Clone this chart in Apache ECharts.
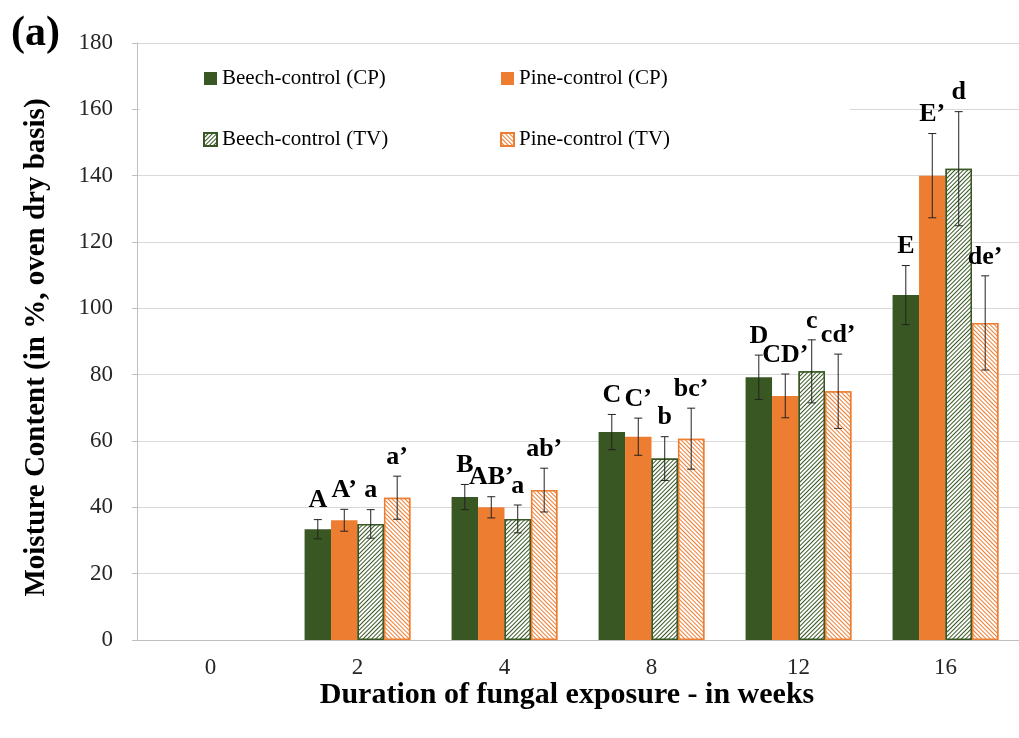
<!DOCTYPE html>
<html>
<head>
<meta charset="utf-8">
<script src="https://cdn.jsdelivr.net/npm/echarts@6/dist/echarts.min.js"></script>
<style>html,body{margin:0;padding:0;background:#fff}#c{width:1019px;height:738px}</style>
</head>
<body>
<div id="c"></div>
<script>
var categories = ['0', '2', '4', '8', '12', '16'];
var seriesNames = ['Beech-control (CP)', 'Pine-control (CP)', 'Beech-control (TV)', 'Pine-control (TV)'];
var beechCP = [null, 33.4, 43.1, 62.7, 79.2, 104.0];
var pineCP  = [null, 36.1, 40.0, 61.3, 73.6, 140.0];
var beechTV = [null, 35.0, 36.5, 54.7, 81.0, 142.1];
var pineTV  = [null, 42.9, 45.2, 60.7, 75.0, 95.6];
var beechCPErr = [null, 2.9, 3.8, 5.3, 6.7, 8.9];
var pineCPErr  = [null, 3.3, 3.2, 5.6, 6.6, 12.7];
var beechTVErr = [null, 4.3, 4.2, 6.6, 9.5, 17.2];
var pineTVErr  = [null, 6.5, 6.6, 9.2, 11.2, 14.2];
var beechCPLbl = ['', 'A', 'B', 'C', 'D', 'E'];
var pineCPLbl  = ['', 'A\u2019', 'AB\u2019', 'C\u2019', 'CD\u2019', 'E\u2019'];
var beechTVLbl = ['', 'a', 'a', 'b', 'c', 'd'];
var pineTVLbl  = ['', 'a\u2019', 'ab\u2019', 'bc\u2019', 'cd\u2019', 'de\u2019'];
var yTicks = {min: 0, max: 180, interval: 20};

var GREEN = '#385723', ORANGE = '#ed7d31';
var SERIF = '"Liberation Serif","Times New Roman",serif';
var values = [beechCP, pineCP, beechTV, pineTV];
var errs = [beechCPErr, pineCPErr, beechTVErr, pineTVErr];
var lbls = [beechCPLbl, pineCPLbl, beechTVLbl, pineTVLbl];
var BW = 0.18;

var errData = [];
for (var s = 0; s < 4; s++) {
  for (var i = 0; i < categories.length; i++) {
    if (values[s][i] != null) errData.push([i, s, values[s][i], errs[s][i], lbls[s][i]]);
  }
}

var itemStyles = [
  {color: GREEN},
  {color: ORANGE},
  {color: '#ffffff', borderColor: GREEN, borderWidth: 1.5,
   decal: {symbol: 'rect', symbolSize: 1, dashArrayX: [1, 0], dashArrayY: [1, 1.7], rotation: -Math.PI / 4, color: GREEN, backgroundColor: '#ffffff'}},
  {color: '#ffffff', borderColor: ORANGE, borderWidth: 1.5,
   decal: {symbol: 'rect', symbolSize: 1, dashArrayX: [1, 0], dashArrayY: [1, 1.7], rotation: Math.PI / 4, color: ORANGE, backgroundColor: '#ffffff'}}
];

var barSeries = values.map(function (v, s) {
  return {type: 'bar', name: seriesNames[s], data: v, barWidth: (BW * 100) + '%', barGap: '0%', itemStyle: itemStyles[s], z: 2};
});

var legendText = {fontFamily: SERIF, fontSize: 21, color: '#000'};
var chart = echarts.init(document.getElementById('c'));
chart.setOption({
  backgroundColor: '#ffffff',
  animation: false,
  title: {text: '(a)', left: 6, top: 8, textStyle: {fontFamily: SERIF, fontSize: 42, fontWeight: 'bold', color: '#000'}},
  grid: {left: 137, top: 43, width: 885, bottom: 98},
  legend: [
    {data: [seriesNames[0], seriesNames[2]], orient: 'vertical', left: 140, top: 56, icon: 'rect',
     padding: [12, 120, 10, 63], itemGap: 40, itemWidth: 13, itemHeight: 13,
     backgroundColor: '#ffffff', z: 5, textStyle: legendText},
    {data: [seriesNames[1], seriesNames[3]], orient: 'vertical', left: 498, top: 56, icon: 'rect',
     padding: [12, 180, 10, 2], itemGap: 40, itemWidth: 13, itemHeight: 13,
     backgroundColor: '#ffffff', z: 5, textStyle: legendText}
  ],
  xAxis: {
    type: 'category', data: categories,
    axisLine: {lineStyle: {color: '#bfbfbf', width: 1}},
    axisTick: {show: false},
    axisLabel: {fontFamily: SERIF, fontSize: 23, color: '#262626', margin: 16},
    name: 'Duration of fungal exposure - in weeks', nameLocation: 'middle', nameGap: 40,
    nameMoveOverlap: false,
    nameTextStyle: {fontFamily: SERIF, fontSize: 30, fontWeight: 'bold', color: '#000', padding: [0, 22, 0, 0]}
  },
  yAxis: {
    type: 'value', min: yTicks.min, max: yTicks.max, interval: yTicks.interval,
    axisLine: {show: true, lineStyle: {color: '#bfbfbf', width: 1}},
    axisTick: {show: true, length: 5, lineStyle: {color: '#bfbfbf'}},
    splitLine: {lineStyle: {color: '#d9d9d9', width: 1}},
    axisLabel: {fontFamily: SERIF, fontSize: 23, color: '#262626', margin: 24},
    name: 'Moisture Content (in %, oven dry basis)', nameLocation: 'middle', nameGap: 86,
    nameMoveOverlap: false,
    nameTextStyle: {fontFamily: SERIF, fontSize: 29, fontWeight: 'bold', color: '#000', padding: [0, 12, 0, 0]}
  },
  series: barSeries.concat([{
    type: 'custom', name: 'err', data: errData, z: 10, silent: true,
    renderItem: function (params, api) {
      var ci = api.value(0), si = api.value(1), v = api.value(2), e = api.value(3);
      var lbl = errData[params.dataIndex][4];
      var catW = api.size([1, 0])[0];
      var bw = catW * BW;
      var c = api.coord([ci, v]);
      var x = c[0] + (si - 1.5) * bw;
      var yt = api.coord([ci, v + e])[1];
      var yb = api.coord([ci, v - e])[1];
      var cap = 4;
      var st = {stroke: '#222', lineWidth: 1};
      return {type: 'group', children: [
        {type: 'line', shape: {x1: x, y1: yt, x2: x, y2: yb}, style: st},
        {type: 'line', shape: {x1: x - cap, y1: yt, x2: x + cap, y2: yt}, style: st},
        {type: 'line', shape: {x1: x - cap, y1: yb, x2: x + cap, y2: yb}, style: st},
        {type: 'text', x: x, y: yt - 6, style: {text: lbl, textAlign: 'center', textVerticalAlign: 'bottom',
          font: 'bold 26px ' + SERIF, fill: '#000'}}
      ]};
    }
  }])
});
</script>
</body>
</html>
